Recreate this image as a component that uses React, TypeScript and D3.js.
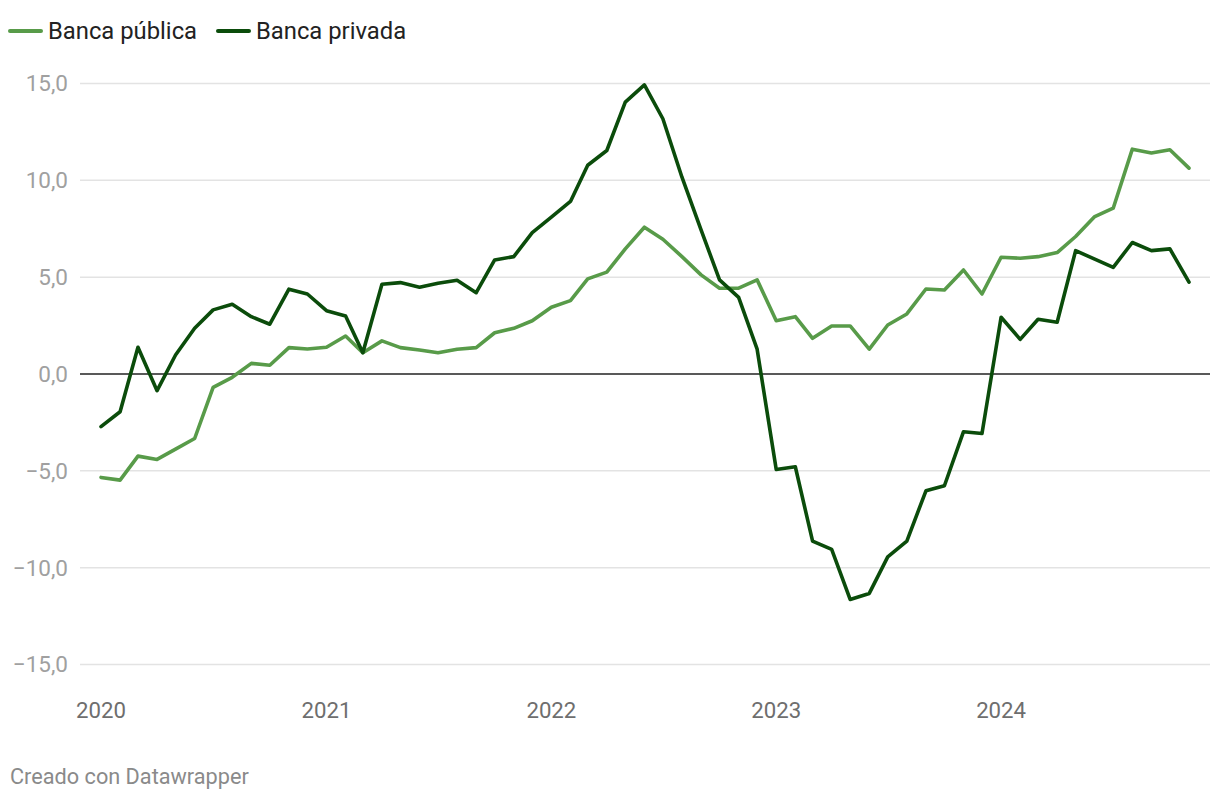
import React from "react";
import * as d3 from "d3";

const months: string[] = [
  "2020-01","2020-02","2020-03","2020-04","2020-05","2020-06","2020-07","2020-08","2020-09","2020-10","2020-11","2020-12",
  "2021-01","2021-02","2021-03","2021-04","2021-05","2021-06","2021-07","2021-08","2021-09","2021-10","2021-11","2021-12",
  "2022-01","2022-02","2022-03","2022-04","2022-05","2022-06","2022-07","2022-08","2022-09","2022-10","2022-11","2022-12",
  "2023-01","2023-02","2023-03","2023-04","2023-05","2023-06","2023-07","2023-08","2023-09","2023-10","2023-11","2023-12",
  "2024-01","2024-02","2024-03","2024-04","2024-05","2024-06","2024-07","2024-08","2024-09","2024-10","2024-11",
];

const bancaPublica: number[] = [
  -5.34, -5.48, -4.24, -4.41, -3.88, -3.33, -0.69, -0.17, 0.55, 0.45, 1.36, 1.29,
  1.38, 1.96, 1.10, 1.71, 1.36, 1.24, 1.10, 1.28, 1.36, 2.13, 2.36, 2.75,
  3.45, 3.79, 4.91, 5.26, 6.46, 7.58, 6.96, 6.06, 5.12, 4.43, 4.43, 4.86,
  2.75, 2.96, 1.84, 2.48, 2.48, 1.28, 2.53, 3.10, 4.39, 4.34, 5.37, 4.13,
  6.03, 5.98, 6.06, 6.27, 7.10, 8.13, 8.56, 11.61, 11.41, 11.58, 10.63,
];

const bancaPrivada: number[] = [
  -2.72, -1.95, 1.38, -0.86, 0.98, 2.36, 3.31, 3.60, 2.96, 2.57, 4.38, 4.13,
  3.27, 3.00, 1.10, 4.63, 4.72, 4.48, 4.69, 4.84, 4.20, 5.89, 6.06, 7.30,
  8.10, 8.91, 10.78, 11.54, 14.04, 14.93, 13.18, 10.16, 7.44, 4.86, 3.96, 1.28,
  -4.93, -4.79, -8.63, -9.06, -11.64, -11.33, -9.44, -8.63, -6.03, -5.77, -2.98, -3.07,
  2.93, 1.79, 2.83, 2.67, 6.37, 5.93, 5.51, 6.79, 6.37, 6.46, 4.74,
];

const yTicks: number[] = [-15, -10, -5, 0, 5, 10, 15];
const xTickYears: string[] = ["2020", "2021", "2022", "2023", "2024"];

const seriesNames: string[] = ["Banca pública", "Banca privada"];
const seriesColors: string[] = ["#589b49", "#0b4c0b"];

const FONT = "Roboto, 'Noto Sans', sans-serif";

export default function App() {
  const W = 1220;
  const H = 800;
  const parse = d3.timeParse("%Y-%m");
  const dates = months.map((m) => parse(m) as Date);

  const x = d3
    .scaleTime()
    .domain([dates[0], dates[dates.length - 1]])
    .range([101, 1189]);
  const y = d3.scaleLinear().domain([-15, 15]).range([664.5, 83.5]);

  const fmt = (v: number) => d3.format(".1f")(v).replace(".", ",");

  const line = d3
    .line<number>()
    .x((_, i) => x(dates[i]))
    .y((d) => y(d))
    .curve(d3.curveLinear);

  const series = [bancaPublica, bancaPrivada];

  const legendX = [10, 218];

  return (
    <svg
      width={W}
      height={H}
      style={{ position: "absolute", left: 0, top: 0, background: "#fff" }}
      fontFamily={FONT}
    >
      {/* Legend */}
      {seriesNames.map((name, i) => (
        <g key={name} transform={`translate(${legendX[i]},31)`}>
          <line x1={0} x2={31} y1={0} y2={0} stroke={seriesColors[i]} strokeWidth={4} strokeLinecap="round" />
          <text x={38} y={0} dy="0.35em" fontSize={23.8} fill="#222">
            {name}
          </text>
        </g>
      ))}

      {/* Grid + y labels */}
      {yTicks.map((t) => (
        <g key={t}>
          <line
            x1={80}
            x2={1210}
            y1={y(t)}
            y2={y(t)}
            stroke={t === 0 ? "#222" : "#e3e3e3"}
            strokeWidth={1.5}
          />
          <text x={68} y={y(t)} dy="0.35em" textAnchor="end" fontSize={22.5} fill="#a0a0a0">
            {fmt(t)}
          </text>
        </g>
      ))}

      {/* X labels */}
      {xTickYears.map((yr) => {
        const d = parse(`${yr}-01`) as Date;
        return (
          <text key={yr} x={x(d)} y={710} dy="0.35em" textAnchor="middle" fontSize={22.2} fill="#6e6e6e">
            {yr}
          </text>
        );
      })}

      {/* Lines */}
      {series.map((s, i) => (
        <path
          key={i}
          d={line(s) || ""}
          fill="none"
          stroke={seriesColors[i]}
          strokeWidth={3.6}
          strokeLinejoin="round"
          strokeLinecap="round"
        />
      ))}

      {/* Footer */}
      <text x={10} y={776} dy="0.35em" fontSize={21.7} fill="#8a8a8a">
        Creado con Datawrapper
      </text>
    </svg>
  );
}
